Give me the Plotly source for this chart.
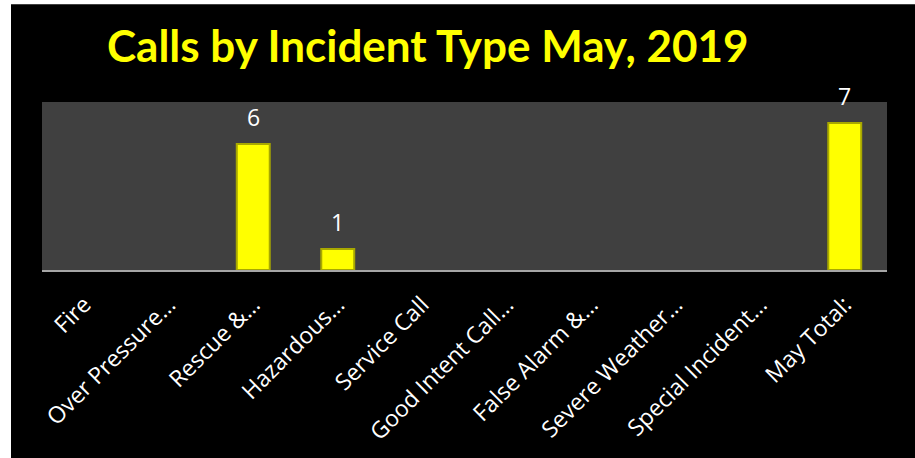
import plotly.graph_objects as go

categories = ["Fire", "Over Pressure…", "Rescue &…", "Hazardous…", "Service Call",
              "Good Intent Call…", "False Alarm &…", "Severe Weather…",
              "Special Incident…", "May Total:"]
values = [0, 0, 6, 1, 0, 0, 0, 0, 0, 7]
title_text = "Calls by Incident Type May, 2019"

W, H = 915, 458
L, R, T, B = 42, 28, 102, 186
pw, ph = W - L - R, H - T - B

fig = go.Figure()
fig.add_trace(go.Bar(
    x=categories, y=values, width=0.39,
    marker=dict(color="#FFFF00",
                line=dict(color="#A8A800", width=[2 if v else 0 for v in values])),
    hoverinfo="skip",
))

annotations = []
for c, v in zip(categories, values):
    if v:
        annotations.append(dict(x=c, y=v, xref="x", yref="y", text=str(v),
                                showarrow=False, yanchor="bottom", yshift=9,
                                font=dict(family="Open Sans", size=23, color="white")))
annotations.append(dict(text="<b>" + title_text + "</b>", xref="paper", yref="paper",
                        x=(427.5 - L) / pw, y=(H - B - 44) / ph, xanchor="center", yanchor="middle",
                        showarrow=False, font=dict(family="Lato", size=44, color="#FFFF00")))

fig.update_layout(
    width=W, height=H,
    margin=dict(l=L, r=R, t=T, b=B),
    paper_bgcolor="white",
    plot_bgcolor="rgba(0,0,0,0)",
    showlegend=False,
    annotations=annotations,
    shapes=[
        dict(type="rect", xref="paper", yref="paper", layer="below",
             x0=(11 - L) / pw, x1=(W + 10 - L) / pw,
             y0=-(B + 10) / ph, y1=(H - B - 3) / ph,
             fillcolor="black", line=dict(width=0)),
        dict(type="rect", xref="paper", yref="paper", layer="below",
             x0=0, x1=1, y0=0, y1=1, fillcolor="#404040", line=dict(width=0)),
    ],
)
fig.update_xaxes(tickangle=-45, tickfont=dict(family="Open Sans", size=23, color="white"),
                 showline=True, linecolor="#A6A6A6", linewidth=2, ticks="", showgrid=False,
                 ticklabelstandoff=10)
fig.update_yaxes(range=[0, 8], visible=False, showgrid=False, zeroline=False)

fig.write_html("out.html", config={"displayModeBar": False},
               post_script="document.body.style.margin='0';")
